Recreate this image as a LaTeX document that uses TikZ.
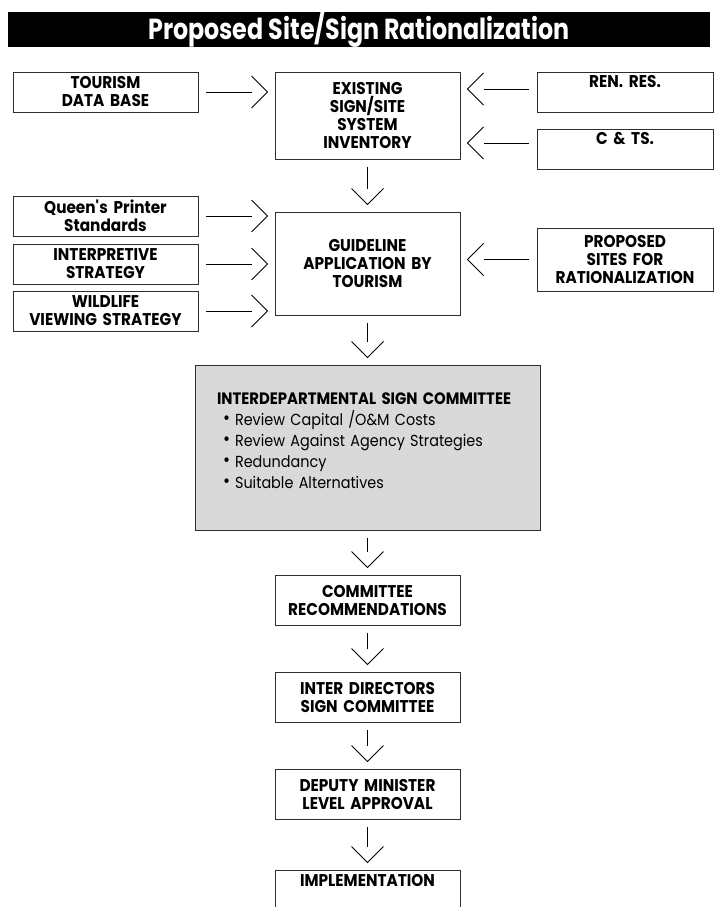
\documentclass[tikz,border=0pt]{standalone}
\usepackage{fontspec}
\setmainfont[FakeStretch=0.9]{Poppins}
\newfontfamily\titlefont[FakeStretch=0.82]{Poppins}
\usetikzlibrary{positioning,decorations.markings}
\definecolor{edge}{HTML}{2E2E2E}
\definecolor{panel}{HTML}{D9D9D9}
\newcommand{\bulletline}[1]{\hspace*{6pt}\raisebox{0.5pt}{\fontsize{19}{21}\selectfont\textbullet}\hspace{5pt}#1}

\tikzset{
  box/.style={draw=edge,line width=1pt,inner sep=0pt,align=center,
    font=\fontsize{17}{18}\selectfont\bfseries},
  mainbox/.style={box,minimum width=185pt,text width=185pt},
  sidebox/.style={box,minimum width=185pt,text width=185pt,minimum height=40pt},
  feedbox/.style={box,minimum width=176pt,text width=176pt},
  topbox/.style={feedbox,minimum height=40pt,text height=15pt,text depth=25pt},
  flow/.style={draw,line width=0.9pt,shorten <=7.5pt,shorten >=23pt,
    postaction={decorate,decoration={markings,mark=at position -7pt with
      {\draw[line width=0.9pt,shorten <=0pt,shorten >=0pt]
        (-16pt,16pt) -- (0pt,0pt) -- (-16pt,-16pt);}}}},
}

\begin{document}
\begin{tikzpicture}[x=1pt,y=1pt]
\useasboundingbox (0,0) rectangle (718,-907);
\node[fill=black,minimum width=702pt,minimum height=35pt,inner sep=0pt,text=white,
  font=\titlefont\bfseries\fontsize{29}{30}\selectfont] (title) at (359,-29.5)
  {Proposed Site/Sign Rationalization};

% main column
\node[mainbox,minimum height=87pt] (exist) at (367.5,-115.5)
  {EXISTING\\SIGN/SITE\\SYSTEM\\INVENTORY};
\node[mainbox,minimum height=103pt,below=52pt of exist] (guide)
  {GUIDELINE\\APPLICATION BY\\TOURISM};
\node[box,fill=panel,minimum width=345pt,minimum height=165pt,text width=301pt,
  align=left,font=\fontsize{16}{21}\selectfont,below=49pt of guide] (review)
  {\mbox{\bfseries\fontsize{16.5}{21}\selectfont INTERDEPARTMENTAL SIGN COMMITTEE}\\
   \bulletline{Review Capital /O\&M Costs}\\
   \bulletline{Review Against Agency Strategies}\\
   \bulletline{Redundancy}\\
   \bulletline{Suitable Alternatives}\\[-7pt]\mbox{}};
\node[mainbox,minimum height=50pt,below=44pt of review] (recom)
  {COMMITTEE\\RECOMMENDATIONS};
\node[mainbox,minimum height=50pt,below=46pt of recom] (idsc)
  {INTER DIRECTORS\\SIGN COMMITTEE};
\node[mainbox,minimum height=50pt,below=46pt of idsc] (deputy)
  {DEPUTY MINISTER\\LEVEL APPROVAL};
\node[mainbox,minimum height=50pt,text height=16pt,text depth=34pt,below=50pt of deputy] (implement)
  {IMPLEMENTATION};

% inputs on the left
\node[sidebox,left=76pt of exist.north west,anchor=north east] (tourism)
  {TOURISM\\DATA BASE};
\node[sidebox,anchor=north east] (queens) at ([xshift=-76pt,yshift=16pt]guide.north west)
  {Queen\textquotesingle s Printer\\Standards};
\node[sidebox,below=7pt of queens] (interp) {INTERPRETIVE\\STRATEGY};
\node[sidebox,below=6pt of interp] (wildlife) {WILDLIFE\\VIEWING STRATEGY};

% inputs on the right
\node[topbox,right=76pt of exist.north east,anchor=north west] (renres) {REN. RES.};
\node[topbox,below=16pt of renres] (cts) {C \& TS.};
\node[feedbox,minimum height=63pt,right=76pt of guide,yshift=4pt] (propose)
  {PROPOSED\\SITES FOR\\RATIONALIZATION};

% connectors
\draw[flow] (tourism.east) -- (tourism.east -| exist.west);
\draw[flow] ([yshift=3pt]renres.west) -- ([yshift=3pt]renres.west -| exist.east);
\draw[flow] ([yshift=6pt]cts.west) -- ([yshift=6pt]cts.west -| exist.east);
\draw[flow] (queens.east) -- (queens.east -| guide.west);
\draw[flow] (interp.east) -- (interp.east -| guide.west);
\draw[flow] (wildlife.east) -- (wildlife.east -| guide.west);
\draw[flow] (propose.west) -- (propose.west -| guide.east);
\draw[flow] (exist.south) -- (guide.north);
\draw[flow] (guide.south) -- (review.north);
\draw[flow] (review.south) -- (recom.north);
\draw[flow] (recom.south) -- (idsc.north);
\draw[flow] (idsc.south) -- (deputy.north);
\draw[flow] (deputy.south) -- (implement.north);
\end{tikzpicture}
\end{document}
